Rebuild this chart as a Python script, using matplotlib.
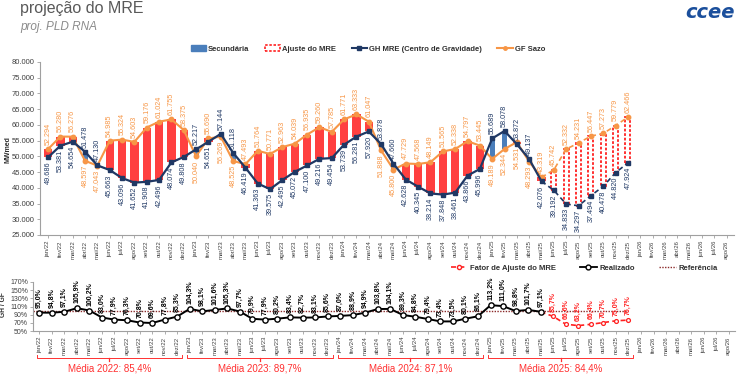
import matplotlib
matplotlib.use('Agg')
import matplotlib.pyplot as plt
from matplotlib.patches import Patch
from matplotlib.lines import Line2D
from matplotlib.transforms import blended_transform_factory
import numpy as np

plt.rcParams['font.family'] = ['Liberation Sans', 'DejaVu Sans']

# ---------------- data ----------------
month_abbr = ['jan', 'fev', 'mar', 'abr', 'mai', 'jun', 'jul', 'ago', 'set', 'out', 'nov', 'dez']
years = ['22', '23', '24', '25']
months = [f"{m}/{y}" for y in years for m in month_abbr] + [f"{m}/26" for m in month_abbr[:8]]

gh_mre = [49686, 53381, 54654, 51478, 47130, 45663, 43096, 41652, 41908, 42496, 48074, 49808,
          52217, 54651, 57144, 51118, 46419, 41363, 39575, 42495, 45072, 47100, 49216, 49454,
          53739, 56281, 57920, 53878, 47660, 42628, 40345, 38214, 37848, 38461, 43866, 45996,
          55689, 58078, 53872, 49137, 42076, 39192, 34833, 34297, 37494, 40478, 44820, 47924]

gf_sazo = [52294, 56280, 56276, 48597, 47043, 54985, 55324, 54603, 59176, 61024, 61755, 58375,
           50040, 55690, 56269, 48525, 47493, 51764, 50771, 52963, 54039, 56935, 59260, 57785,
           61771, 63333, 61047, 51888, 45800, 47729, 47568, 48149, 51565, 52338, 54797, 53445,
           49189, 52344, 54531, 48293, 43319, 45742, 52332, 54231, 56447, 57273, 59779, 62466]

fator = [95.0, 94.8, 97.1, 105.9, 100.2, 83.0, 77.9, 76.3, 70.8, 69.6, 77.8, 85.3,
         104.3, 98.1, 101.6, 105.3, 97.7, 79.9, 77.9, 80.2, 83.4, 82.7, 83.1, 85.6,
         87.0, 88.9, 94.9, 103.8, 104.1, 89.3, 84.8, 79.4, 73.4, 73.5, 80.1, 86.1,
         113.2, 111.0, 98.8, 101.7, 97.1, 85.7, 66.6, 63.2, 66.4, 70.7, 75.0, 76.7]

n_realized = 41  # jan/22 .. mai/25
year_avg_labels = ['Média 2022: 85,4%', 'Média 2023: 89,7%', 'Média 2024: 87,1%', 'Média 2025: 84,4%']
label_swap = [38]  # months where label placement is inverted in the original

# ---------------- style ----------------
C_NAVY = '#1F3864'
C_ORANGE = '#F79646'
C_RED = '#FF4040'
C_BLUE = '#4A7EBB'
C_GRAY = '#404040'

W, H = 743, 377
fig = plt.figure(figsize=(W / 100, H / 100), dpi=100)

def fmt_thousand(v):
    return f"{v:,.0f}".replace(',', '.')

# ---------------- top chart ----------------
ax = fig.add_axes([40 / W, 1 - 235 / H, (734 - 40) / W, (235 - 62) / H])
x_all = np.arange(len(months))
n_data = len(gh_mre)
x = np.arange(n_data)
gh = np.array(gh_mre, dtype=float)
gf = np.array(gf_sazo, dtype=float)

lo = np.minimum(gh, gf)
hi = np.maximum(gh, gf)
real = x < n_realized
red_mask = real & (gf > gh)
blue_mask = real & (gh >= gf)
proj = ~real

ax.bar(x[red_mask], (hi - lo)[red_mask], bottom=lo[red_mask], width=0.68, color=C_RED, zorder=2)
ax.bar(x[blue_mask], (hi - lo)[blue_mask], bottom=lo[blue_mask], width=0.4, color=C_BLUE, zorder=2)
ax.bar(x[proj], (hi - lo)[proj], bottom=lo[proj], width=0.42, facecolor='white',
       edgecolor='#FF2020', linestyle=(0, (1.5, 1.0)), linewidth=1.3, zorder=2)

nr = n_realized
ax.plot(x[:nr], gf[:nr], color=C_ORANGE, lw=1.5, marker='o', ms=3.2, zorder=3)
ax.plot(x[nr - 1:], gf[nr - 1:], color=C_ORANGE, lw=1.2, ls=(0, (3, 2)), zorder=3)
ax.plot(x[nr:], gf[nr:], color=C_ORANGE, lw=0, marker='o', ms=3.2, zorder=3)
ax.plot(x[:nr], gh[:nr], color=C_NAVY, lw=1.6, marker='s', ms=2.8, zorder=4)
ax.plot(x[nr - 1:], gh[nr - 1:], color=C_NAVY, lw=1.2, ls=(0, (3, 2)), zorder=4)
ax.plot(x[nr:], gh[nr:], color=C_NAVY, lw=0, marker='s', ms=2.8, zorder=4)

for i in range(n_data):
    gh_above = gh[i] >= gf[i]
    if i in label_swap:
        gh_above = not gh_above
    for val, col, above in ((gh[i], C_NAVY, gh_above), (gf[i], C_ORANGE, not gh_above)):
        ax.annotate(fmt_thousand(val), (i, val), xytext=(0, 3 if above else -3),
                    textcoords='offset points', rotation=90, ha='center',
                    va='bottom' if above else 'top', fontsize=5.2, color=col, zorder=5)

ax.set_xlim(-0.65, len(months) - 0.4)
ax.set_ylim(25000, 80000)
ax.set_yticks(np.arange(25000, 80001, 5000))
ax.set_yticklabels([fmt_thousand(v) for v in np.arange(25000, 80001, 5000)])
ax.set_xticks(x_all)
ax.set_xticklabels(months, rotation=90)
ax.tick_params(axis='x', labelsize=4.3, length=2, width=0.6, color='#A0A0A0', labelcolor=C_GRAY, pad=2)
ax.tick_params(axis='y', labelsize=5.5, length=2, width=0.6, color='#A0A0A0', labelcolor=C_GRAY, pad=2)
for s in ['top', 'right']:
    ax.spines[s].set_visible(False)
for s in ['left', 'bottom']:
    ax.spines[s].set_color('#A0A0A0')
    ax.spines[s].set_linewidth(0.8)
fig.text(8 / W, 1 - 150 / H, 'MWmed', rotation=90, fontsize=5, fontweight='bold', color='#303030',
         ha='center', va='center')

# top legend
leg_handles = [Patch(facecolor=C_BLUE, edgecolor=C_BLUE),
               Patch(facecolor='white', edgecolor='#FF2020', linestyle=(0, (1.5, 1.0)), linewidth=1.2),
               Line2D([0], [0], color=C_NAVY, lw=1.5, marker='s', ms=2.5),
               Line2D([0], [0], color=C_ORANGE, lw=1.5, marker='o', ms=2.5)]
leg_labels = ['Secundária', 'Ajuste do MRE', 'GH MRE (Centro de Gravidade)', 'GF Sazo']
fig.legend(leg_handles, leg_labels, loc='center', bbox_to_anchor=(368 / W, 1 - 49 / H), ncol=4,
           frameon=False, prop={'size': 5.5, 'weight': 'bold'}, handlelength=2.0, handleheight=0.8,
           columnspacing=2.0, handletextpad=0.3, labelcolor='#303030')

# ---------------- bottom chart ----------------
ax2 = fig.add_axes([33 / W, 1 - 331 / H, (735 - 33) / W, 49 / H])
fat = np.array(fator)
ax2.plot([-0.5, n_data - 1], [100, 100], ls=(0, (1, 1)), color='#8B2A2A', lw=1.0, zorder=1)
ax2.plot(x[nr - 1:], fat[nr - 1:], color='#FF2020', lw=1.2, ls=(0, (3, 2)), zorder=2)
ax2.plot(x[nr:], fat[nr:], lw=0, marker='o', ms=2.8, mfc='white', mec='#FF2020', mew=0.9, zorder=3)
ax2.plot(x[:nr], fat[:nr], color='black', lw=1.4, marker='o', ms=3.8, mfc='white', mec='black',
         mew=1.0, zorder=3)
for i in range(n_data):
    col = 'black' if i < nr else '#FF2020'
    ax2.annotate(f"{fat[i]:.1f}%".replace('.', ','), (i, fat[i]), xytext=(0, 3.5),
                 textcoords='offset points', rotation=90, ha='center', va='bottom',
                 fontsize=5.0, fontweight='bold', color=col, zorder=5)

ax2.set_xlim(-0.5, len(months) - 0.5)
ax2.set_ylim(50, 170)
yt = np.arange(50, 171, 20)
ax2.set_yticks(yt)
ax2.set_yticklabels([f"{v}%" for v in yt])
ax2.set_xticks(x_all)
ax2.set_xticklabels(months, rotation=90)
ax2.tick_params(axis='x', labelsize=4.3, length=2, width=0.6, color='#A0A0A0', labelcolor=C_GRAY, pad=2)
ax2.tick_params(axis='y', labelsize=5.0, length=2, width=0.6, color='#A0A0A0', labelcolor=C_GRAY, pad=1.5)
for s in ['top', 'right']:
    ax2.spines[s].set_visible(False)
for s in ['left', 'bottom']:
    ax2.spines[s].set_color('#A0A0A0')
    ax2.spines[s].set_linewidth(0.8)
fig.text(4 / W, 1 - 305 / H, 'GH / GF', rotation=90, fontsize=4.8, fontweight='bold', color='#303030',
         ha='center', va='center')

# bottom legend
leg2_handles = [Line2D([0], [0], color='#FF2020', lw=1.2, ls=(0, (3, 2)), marker='o', ms=3,
                       mfc='white', mec='#FF2020'),
                Line2D([0], [0], color='black', lw=1.3, marker='o', ms=3.5, mfc='white', mec='black'),
                Line2D([0], [0], color='#8B2A2A', lw=1.0, ls=(0, (1, 1)))]
leg2_labels = ['Fator de Ajuste do MRE', 'Realizado', 'Referência']
fig.legend(leg2_handles, leg2_labels, loc='center', bbox_to_anchor=(584 / W, 1 - 268 / H), ncol=3,
           frameon=False, prop={'size': 5.5, 'weight': 'bold'}, handlelength=2.2,
           columnspacing=3.2, handletextpad=0.3, labelcolor='#303030')

# year brackets
tr = blended_transform_factory(ax2.transData, fig.transFigure)
yb = 1 - 358 / H
yb_up = 1 - 355 / H
yb_dn = 1 - 361 / H
yt_txt = 1 - 368.5 / H
for k, lab in enumerate(year_avg_labels):
    x0 = 12 * k - 0.2
    x1 = 12 * k + 11.4
    xm = (x0 + x1) / 2
    ax2.plot([x0, x0, x1, x1], [yb_up, yb, yb, yb_up], transform=tr, color='#FF3030', lw=0.7,
             clip_on=False)
    ax2.plot([xm, xm], [yb, yb_dn], transform=tr, color='#FF3030', lw=0.9, clip_on=False)
    ax2.text(xm, yt_txt, lab, transform=tr, ha='center', va='center', fontsize=7,
             color='#FF3030', clip_on=False)

# titles / logo
fig.text(20 / W, 1 - 9 / H, 'projeção do MRE', fontsize=11.5, color='#595959', va='center', ha='left')
fig.text(20 / W, 1 - 27 / H, 'proj. PLD RNA', fontsize=8.5, color='#8C8C8C', style='italic',
         va='center', ha='left')
fig.text(735 / W, 1 - 12 / H, 'ccee', fontsize=14, color='#1B4F9C', fontweight='bold',
         style='italic', va='center', ha='right', family='DejaVu Sans')

fig.savefig('out.png', dpi=100)
